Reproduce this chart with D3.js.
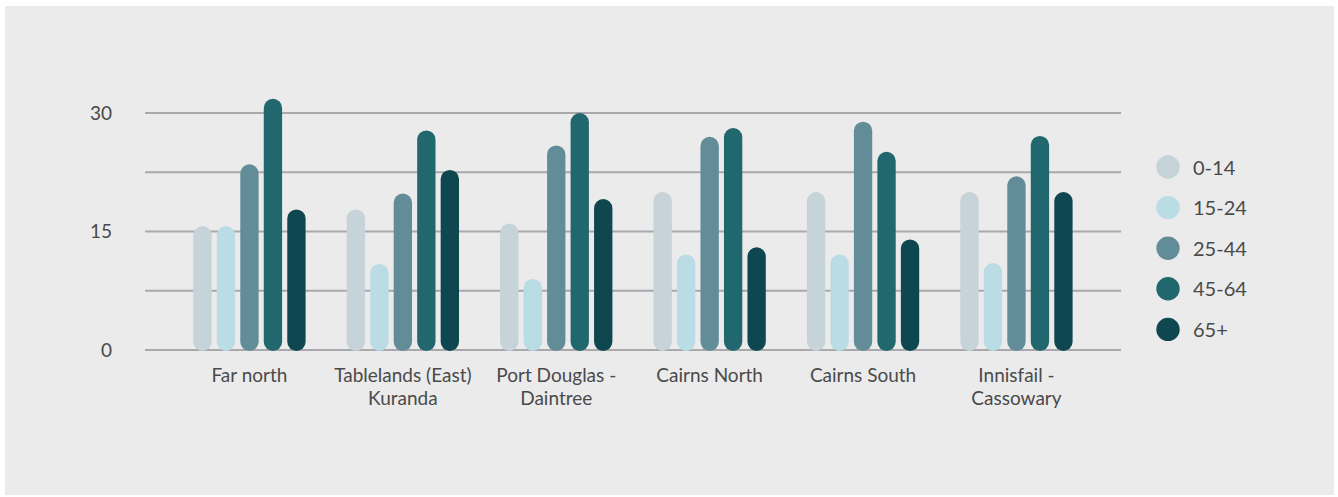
<!DOCTYPE html>
<html>
<head>
<meta charset="utf-8">
<script src="https://cdn.jsdelivr.net/npm/d3@7"></script>
<style>
  html, body { margin: 0; padding: 0; background: #ffffff; }
  svg { display: block; }
  text { font-family: Lato, "Noto Sans", sans-serif; fill: #4a4a4a; }
</style>
</head>
<body>
<svg id="chart" width="1338" height="497"></svg>
<script>
// Regions (two-line labels use "\n")
const regions = ["Far north", "Tablelands (East)\nKuranda", "Port Douglas -\nDaintree", "Cairns North", "Cairns South", "Innisfail -\nCassowary"];
const ageGroups = ["0-14", "15-24", "25-44", "45-64", "65+"];

// Share of population (%) per age group, one array per group, in region order
const age0to14  = [15.7, 17.8, 16.0, 20.0, 20.0, 20.0];
const age15to24 = [15.7, 10.9,  9.0, 12.1, 12.1, 11.0];
const age25to44 = [23.5, 19.8, 25.9, 27.0, 28.9, 22.0];
const age45to64 = [31.8, 27.8, 30.0, 28.1, 25.1, 27.1];
const age65plus = [17.8, 22.8, 19.1, 13.0, 14.0, 20.0];

const yTickLabels = [0, 15, 30];
const gridValues = [0, 7.5, 15, 22.5, 30];

const seriesValues = [age0to14, age15to24, age25to44, age45to64, age65plus];
const colors = ["#c6d3d8", "#b9dce5", "#618c98", "#21676e", "#0e4750"];

const svg = d3.select("#chart");

// panel background
svg.append("rect")
  .attr("x", 5).attr("y", 6)
  .attr("width", 1329).attr("height", 489)
  .attr("fill", "#ebebeb");

const y = d3.scaleLinear().domain([0, 30]).range([350, 113]);

const x0 = d3.scaleBand()
  .domain(regions)
  .range([193.3, 1072.6])
  .paddingInner(0.268)
  .paddingOuter(0);

const x1 = d3.scaleBand()
  .domain(ageGroups)
  .range([0, x0.bandwidth()])
  .paddingInner(0.22)
  .paddingOuter(0);

const color = d3.scaleOrdinal().domain(ageGroups).range(colors);

// horizontal gridlines
svg.append("g")
  .selectAll("line")
  .data(gridValues)
  .join("line")
  .attr("x1", 145).attr("x2", 1121)
  .attr("y1", d => y(d)).attr("y2", d => y(d))
  .attr("stroke", "#a9a9ad")
  .attr("stroke-width", 2);

// y tick labels
const yAxis = d3.axisLeft(y).tickValues(yTickLabels).tickSize(0).tickPadding(0);
const yg = svg.append("g").attr("transform", "translate(112,0)").call(yAxis);
yg.select(".domain").remove();
yg.selectAll("text")
  .attr("font-size", 19)
  .attr("font-family", "Lato, 'Noto Sans', sans-serif")
  .attr("fill", "#4a4a4a");

// bars: fully rounded pills
const rows = regions.map((r, i) => ({ region: r, values: ageGroups.map((a, j) => ({ age: a, value: seriesValues[j][i] })) }));

const groups = svg.append("g")
  .selectAll("g")
  .data(rows)
  .join("g")
  .attr("transform", d => `translate(${x0(d.region)},0)`);

groups.selectAll("rect")
  .data(d => d.values)
  .join("rect")
  .attr("x", d => x1(d.age))
  .attr("y", d => y(d.value))
  .attr("width", x1.bandwidth())
  .attr("height", d => y(0) - y(d.value) + 1)
  .attr("rx", x1.bandwidth() / 2)
  .attr("fill", d => color(d.age));

// category labels
const xAxis = d3.axisBottom(x0).tickSize(0).tickPadding(0);
const xg = svg.append("g").attr("transform", "translate(0,0)").call(xAxis);
xg.select(".domain").remove();
xg.selectAll(".tick text").remove();
xg.selectAll(".tick").each(function(d) {
  const lines = d.split("\n");
  const t = d3.select(this).append("text")
    .attr("text-anchor", "middle")
    .attr("font-size", 19)
    .attr("fill", "#4a4a4a");
  lines.forEach((ln, k) => {
    t.append("tspan").attr("x", 0).attr("y", 382 + k * 22.5).text(ln);
  });
});

// legend
const legend = svg.append("g")
  .selectAll("g")
  .data(ageGroups)
  .join("g")
  .attr("transform", (d, i) => `translate(1168,${167 + i * 40.6})`);

legend.append("circle")
  .attr("r", 11.7)
  .attr("fill", d => color(d));

legend.append("text")
  .attr("x", 25)
  .attr("y", 7.5)
  .attr("font-size", 20)
  .text(d => d);
</script>
</body>
</html>
